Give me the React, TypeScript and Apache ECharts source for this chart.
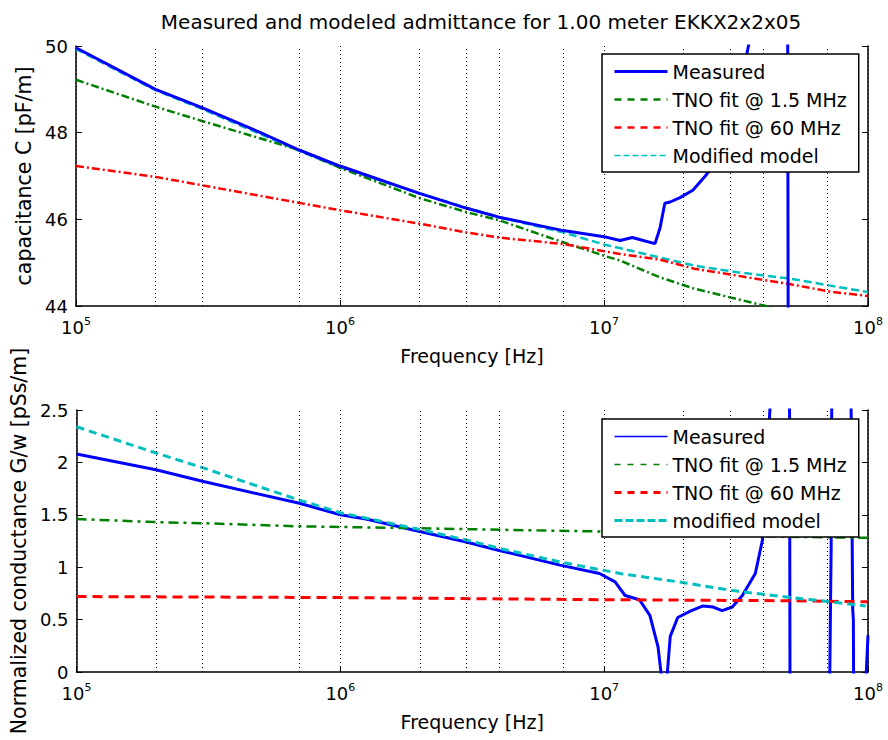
import React, { useEffect, useRef } from "react";
import * as echarts from "echarts";

// ---------- data ----------
// Top panel: capacitance C [pF/m]
const MEAS_C_F = [1e5, 2e5, 3e5, 5e5, 7e5, 1e6, 2e6, 3e6, 4e6, 7e6, 1e7, 1.15e7, 1.28e7, 1.43e7, 1.56e7, 1.63e7, 1.7e7, 1.78e7, 1.94e7, 2.17e7, 2.42e7, 2.52e7, 3e7, 3.4e7, 3.6e7, 4.2e7, 4.95e7, 5.0e7, 5.5e7, 7e7, 1e8];
const MEAS_C = [49.96, 49.0, 48.58, 48.0, 47.6, 47.23, 46.6, 46.26, 46.05, 45.74, 45.6, 45.51, 45.58, 45.5, 45.44, 45.8, 46.37, 46.4, 46.5, 46.67, 47.0, 47.14, 48.2, 49.5, 50.3, 52, 55, 38, 40, 41, 42];

const TNO15_C_F = [1e5, 2e5, 3e5, 7e5, 1e6, 2e6, 3e6, 4e6, 7e6, 1e7, 1.15e7, 1.63e7, 2.2e7, 4.1e7, 1e8];
const TNO15_C = [49.22, 48.6, 48.27, 47.6, 47.19, 46.49, 46.17, 45.98, 45.47, 45.16, 45.05, 44.66, 44.4, 44.0, 43.2];

const TNO60_C_F = [1e5, 2e5, 1e6, 2e6, 3e6, 4e6, 7e6, 1.15e7, 1.63e7, 2.2e7, 3.2e7, 5.1e7, 7.2e7, 1e8];
const TNO60_C = [47.23, 46.98, 46.21, 45.9, 45.7, 45.58, 45.43, 45.2, 45.07, 44.86, 44.7, 44.5, 44.33, 44.23];

const MOD_C_F = [1e5, 2e5, 3e5, 7e5, 1e6, 2e6, 3e6, 4e6, 7e6, 1e7, 1.63e7, 2.2e7, 3.2e7, 5.1e7, 7.2e7, 1e8];
const MOD_C = [49.93, 48.98, 48.55, 47.58, 47.2, 46.6, 46.27, 46.05, 45.7, 45.42, 45.12, 44.93, 44.78, 44.63, 44.47, 44.32];

// Bottom panel: normalized conductance G/w [pSs/m]
const MEAS_G_F = [1e5, 2e5, 3e5, 7e5, 1e6, 1.25e6, 2e6, 3e6, 4e6, 6.8e6, 9.6e6, 1.1e7, 1.2e7, 1.36e7, 1.49e7, 1.6e7, 1.65e7, 1.73e7, 1.78e7, 1.9e7, 2.12e7, 2.37e7, 2.59e7, 2.8e7, 3.06e7, 3.34e7, 3.74e7, 3.98e7, 4.27e7, 4.6e7, 5.0e7, 5.1e7, 6e7, 7.1e7, 7.2e7, 7.25e7, 7.3e7, 8e7, 8.6e7, 8.75e7, 8.8e7, 8.85e7, 9.7e7, 9.85e7, 1e8];
const MEAS_G = [2.08, 1.93, 1.82, 1.61, 1.5, 1.46, 1.34, 1.24, 1.16, 1.02, 0.94, 0.86, 0.73, 0.69, 0.54, 0.24, -0.05, -0.05, 0.34, 0.52, 0.58, 0.63, 0.62, 0.585, 0.62, 0.73, 0.94, 1.26, 2.6, 4, 8, -5, -2, -1, 0.5, 1.2, 3, 6, 3, 0.6, 0.5, -1, -1, 0, 0.35];

const TNO15_G_F = [1e5, 2e5, 3e5, 7e5, 1.25e6, 1e7, 5e7, 1e8];
const TNO15_G = [1.46, 1.43, 1.42, 1.39, 1.38, 1.34, 1.29, 1.28];

const TNO60_G_F = [1e5, 1e6, 1e7, 5e7, 1e8];
const TNO60_G = [0.72, 0.71, 0.69, 0.68, 0.67];

const MOD_G_F = [1e5, 2e5, 3e5, 7e5, 1e6, 2e6, 3e6, 4e6, 6.8e6, 1.15e7, 2.03e7, 3e7, 5.1e7, 7.2e7, 9.8e7];
const MOD_G = [2.34, 2.09, 1.95, 1.64, 1.52, 1.36, 1.26, 1.18, 1.05, 0.94, 0.85, 0.78, 0.71, 0.67, 0.63];

// Visible dotted vertical grid lines (minor)
const MINOR_GRID = [2e5, 3e5, 7e5, 2e6, 3e6, 4e6, 7e6, 2e7, 3e7, 4e7, 7e7];

const TITLE = "Measured and modeled admittance for 1.00 meter EKKX2x2x05";
const TOP_NAMES = ["Measured", "TNO fit @ 1.5 MHz", "TNO fit @ 60 MHz", "Modified model"];
const BOT_NAMES = ["Measured", "TNO fit @ 1.5 MHz", "TNO fit @ 60 MHz", "modified model"];

const zip = (xs: number[], ys: number[]) => xs.map((x, i) => [x, ys[i]]);

const FONT = "DejaVu Sans";
const BLUE = "#0000ff";
const GREEN = "#008000";
const RED = "#ff0000";
const CYAN = "#00bfbf";

export default function App() {
  const ref = useRef<HTMLDivElement>(null);

  useEffect(() => {
    if (!ref.current) return;
    const chart = echarts.init(ref.current, undefined, { renderer: "svg" });

    const xAxisBase = (gridIndex: number) => ({
      type: "log",
      logBase: 10,
      min: 1e5,
      max: 1e8,
      gridIndex,
      axisLine: { show: true, onZero: false, lineStyle: { color: "#000", width: 1.5 } },
      axisTick: { show: true, inside: true, length: 6, lineStyle: { color: "#000" } },
      axisLabel: {
        color: "#000",
        margin: 10,
        formatter: (v: number) => `{b|10}{e|${Math.round(Math.log10(v))}}`,
        rich: {
          b: { fontSize: 18, fontFamily: FONT, color: "#000" },
          e: { fontSize: 11, fontFamily: FONT, color: "#000", padding: [0, 0, 12, 0] },
        },
      },
      splitLine: { show: true, lineStyle: { color: "#000", type: [1, 3], width: 1 } },
      name: "Frequency [Hz]",
      nameLocation: "middle",
      nameGap: 40,
      nameTextStyle: { fontSize: 19, fontFamily: FONT, color: "#000" },
    });

    const yLeft = (gridIndex: number, min: number, max: number, interval: number, name: string, nameGap: number) => ({
      type: "value",
      gridIndex,
      min,
      max,
      interval,
      position: "left",
      axisLine: { show: true, lineStyle: { color: "#000", width: 1.5 } },
      axisTick: { show: true, inside: true, length: 6, lineStyle: { color: "#000" } },
      axisLabel: { color: "#000", fontSize: 18, fontFamily: FONT, margin: 8, formatter: (v: number) => String(v) },
      splitLine: { show: false },
      name,
      nameLocation: "middle",
      nameGap,
      nameRotate: 90,
      nameTextStyle: { fontSize: 20.5, fontFamily: FONT, color: "#000" },
    });

    const yRight = (gridIndex: number, min: number, max: number, interval: number) => ({
      type: "value",
      gridIndex,
      min,
      max,
      interval,
      position: "right",
      axisLine: { show: true, lineStyle: { color: "#000", width: 1.5 } },
      axisTick: { show: true, inside: true, length: 6, lineStyle: { color: "#000" } },
      axisLabel: { show: false },
      splitLine: { show: false },
    });

    const line = (name: string, xi: number, yi: number, data: number[][], color: string, width: number, type: any, z = 2) => ({
      type: "line",
      name,
      xAxisIndex: xi,
      yAxisIndex: yi,
      data,
      showSymbol: false,
      symbol: "none",
      clip: true,
      z,
      lineStyle: { color, width, type },
      itemStyle: { color },
    });

    const gridHelper = (xi: number, yi: number) => ({
      type: "line",
      name: "grid" + xi,
      xAxisIndex: xi,
      yAxisIndex: yi,
      data: [],
      silent: true,
      z: 1,
      markLine: {
        silent: true,
        symbol: ["none", "none"],
        label: { show: false },
        animation: false,
        lineStyle: { color: "#000", type: [1, 3], width: 1 },
        data: MINOR_GRID.map((v) => ({ xAxis: v })),
      },
    });

    const G = "G: ";
    const HIDDEN = { color: "rgba(0,0,0,0)", borderColor: "rgba(0,0,0,0)", borderWidth: 0, opacity: 0 };
    const legendBase = (top: number) => ({
      orient: "vertical",
      left: 602,
      top,
      z: 10,
      backgroundColor: "#fff",
      borderColor: "#000",
      borderWidth: 1.5,
      borderRadius: 0,
      padding: [8, 12, 7, 11],
      itemWidth: 53,
      itemHeight: 14,
      itemGap: 9,
      selectedMode: false,
      itemStyle: HIDDEN,
      textStyle: { fontSize: 19, fontFamily: FONT, color: "#000" },
      formatter: (n: string) => n.replace(/^G: /, ""),
    });

    const option = {
      animation: false,
      backgroundColor: "#fff",
      title: {
        text: TITLE,
        left: 476,
        top: 7,
        textAlign: "center",
        textStyle: { fontSize: 20, fontWeight: "normal", fontFamily: FONT, color: "#000" },
      },
      legend: [
        {
          ...legendBase(54),
          data: [
            { name: TOP_NAMES[0], itemStyle: HIDDEN, lineStyle: { width: 3, type: "solid" } },
            { name: TOP_NAMES[1], itemStyle: HIDDEN, lineStyle: { width: 2.5, type: [7, 6] } },
            { name: TOP_NAMES[2], itemStyle: HIDDEN, lineStyle: { width: 2.5, type: [7, 6] } },
            { name: TOP_NAMES[3], itemStyle: HIDDEN, lineStyle: { width: 1.5, type: [6, 3] } },
          ],
        },
        {
          ...legendBase(419),
          data: [
            { name: G + BOT_NAMES[0], itemStyle: HIDDEN, lineStyle: { width: 1.5, type: "solid" } },
            { name: G + BOT_NAMES[1], itemStyle: HIDDEN, lineStyle: { width: 1.5, type: [6, 7] } },
            { name: G + BOT_NAMES[2], itemStyle: HIDDEN, lineStyle: { width: 3, type: [7, 6] } },
            { name: G + BOT_NAMES[3], itemStyle: HIDDEN, lineStyle: { width: 3, type: [8, 3] } },
          ],
        },
      ],
      grid: [
        { left: 76, right: 20, top: 46, height: 260 },
        { left: 76, right: 20, top: 410, height: 262 },
      ],
      xAxis: [xAxisBase(0), xAxisBase(1)],
      yAxis: [
        yLeft(0, 44, 50, 2, "capacitance C [pF/m]", 33),
        yLeft(1, 0, 2.5, 0.5, "Normalized conductance G/w [pSs/m]", 40),
        yRight(0, 44, 50, 2),
        yRight(1, 0, 2.5, 0.5),
      ],
      series: [
        gridHelper(0, 0),
        gridHelper(1, 1),
        line(TOP_NAMES[3], 0, 0, zip(MOD_C_F, MOD_C), CYAN, 2.5, [8, 4]),
        line(TOP_NAMES[0], 0, 0, zip(MEAS_C_F, MEAS_C), BLUE, 3, "solid", 3),
        line(TOP_NAMES[1], 0, 0, zip(TNO15_C_F, TNO15_C), GREEN, 2.5, [8, 3, 2, 3]),
        line(TOP_NAMES[2], 0, 0, zip(TNO60_C_F, TNO60_C), RED, 2.5, [8, 3, 2, 3]),
        line(G + BOT_NAMES[0], 1, 1, zip(MEAS_G_F, MEAS_G), BLUE, 3, "solid"),
        line(G + BOT_NAMES[1], 1, 1, zip(TNO15_G_F, TNO15_G), GREEN, 2.5, [10, 5, 3, 5]),
        line(G + BOT_NAMES[2], 1, 1, zip(TNO60_G_F, TNO60_G), RED, 3, [10, 6]),
        line(G + BOT_NAMES[3], 1, 1, zip(MOD_G_F, MOD_G), CYAN, 3, [8, 5]),
      ],
    };

    chart.setOption(option as any);
    return () => chart.dispose();
  }, []);

  return <div ref={ref} style={{ position: "absolute", left: 0, top: 0, width: 888, height: 740 }} />;
}
